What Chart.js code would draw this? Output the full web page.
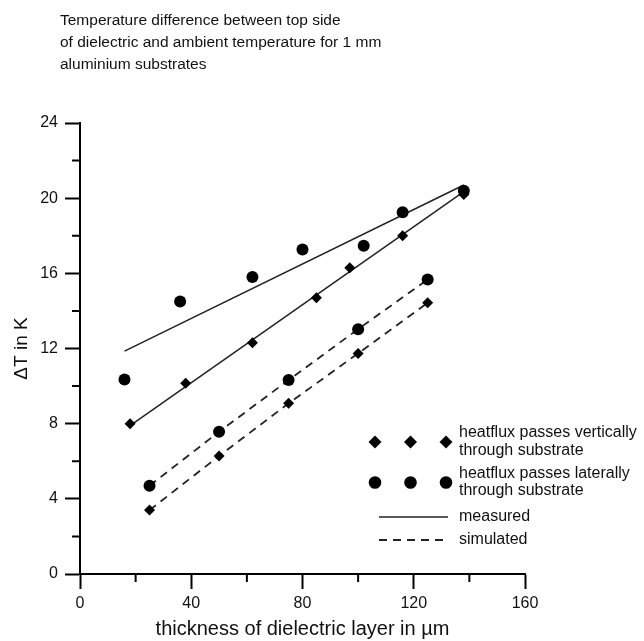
<!DOCTYPE html>
<html>
<head>
<meta charset="utf-8">
<script src="https://cdn.jsdelivr.net/npm/chart.js@4.4.1/dist/chart.umd.min.js"></script>
<style>
  html, body { margin: 0; padding: 0; background: #fff; }
  canvas { display: block; }
</style>
</head>
<body>
<canvas id="chart" width="644" height="641"></canvas>
<script>
// measured data (thickness in µm, delta T in K)
const measVertX = [18, 38, 62, 85, 97, 116, 138];
const measVertY = [8.0, 10.15, 12.3, 14.7, 16.3, 18.0, 20.2];
const measLatX = [16, 36, 62, 80, 102, 116, 138];
const measLatY = [10.35, 14.5, 15.8, 17.27, 17.47, 19.25, 20.4];

// fitted lines through the measured data (end points)
const fitVertX = [18, 138];
const fitVertY = [7.9, 20.35];
const fitLatX = [16, 138];
const fitLatY = [11.86, 20.7];

// simulated data
const simX = [25, 50, 75, 100, 125];
const simVertY = [3.4, 6.28, 9.08, 11.74, 14.43];
const simLatY = [4.7, 7.57, 10.32, 13.03, 15.67];

const titleLines = [
  "Temperature difference between top side",
  "of dielectric and ambient temperature for 1 mm",
  "aluminium substrates"
];
const legendRows = [
  ["heatflux passes vertically", "through substrate"],
  ["heatflux passes laterally", "through substrate"],
  ["measured"],
  ["simulated"]
];

const FONT = "'Liberation Sans', Arial, sans-serif";
const INK = "#111";

function pts(xs, ys) {
  return xs.map((x, i) => ({ x: x, y: ys[i] }));
}

// title, minor ticks and legend
const extras = {
  id: "extras",
  afterDraw(chart) {
    const ctx = chart.ctx;
    const xs = chart.scales.x, ys = chart.scales.y;
    const area = chart.chartArea;
    ctx.save();

    // minor ticks
    ctx.strokeStyle = "#000";
    ctx.lineWidth = 2;
    ctx.beginPath();
    for (let v = 20; v < 160; v += 40) {
      const px = xs.getPixelForValue(v);
      ctx.moveTo(px, area.bottom);
      ctx.lineTo(px, area.bottom + 8);
    }
    for (let v = 2; v < 24; v += 4) {
      const py = ys.getPixelForValue(v);
      ctx.moveTo(area.left - 8, py);
      ctx.lineTo(area.left, py);
    }
    ctx.stroke();

    // title
    ctx.fillStyle = INK;
    ctx.font = "15.5px " + FONT;
    ctx.textAlign = "left";
    ctx.textBaseline = "alphabetic";
    titleLines.forEach((t, i) => ctx.fillText(t, 60, 25 + i * 22));

    // legend
    ctx.font = "16px " + FONT;
    ctx.textBaseline = "middle";
    const tx = 459;
    ctx.fillText(legendRows[0][0], tx, 433);
    ctx.fillText(legendRows[0][1], tx, 451);
    ctx.fillText(legendRows[1][0], tx, 474);
    ctx.fillText(legendRows[1][1], tx, 491);
    ctx.fillText(legendRows[2][0], tx, 517);
    ctx.fillText(legendRows[3][0], tx, 540);

    ctx.fillStyle = "#000";
    [375, 410.5, 446].forEach(cx => {
      Chart.helpers.drawPoint(ctx, { pointStyle: "rectRot", radius: 6.5, borderWidth: 0 }, cx, 442);
      ctx.beginPath();
      ctx.arc(cx, 482.5, 6.3, 0, Math.PI * 2);
      ctx.fill();
    });

    ctx.strokeStyle = "#222";
    ctx.lineWidth = 1.5;
    ctx.beginPath();
    ctx.moveTo(379, 517);
    ctx.lineTo(448, 517);
    ctx.stroke();
    ctx.lineWidth = 1.8;
    ctx.setLineDash([8, 6]);
    ctx.beginPath();
    ctx.moveTo(379, 540);
    ctx.lineTo(448, 540);
    ctx.stroke();
    ctx.restore();
  }
};

const diamond = { pointStyle: "rectRot", pointRadius: 5.5, pointBackgroundColor: "#000", pointBorderWidth: 0 };
const dot = { pointStyle: "circle", pointRadius: 6, pointBackgroundColor: "#000", pointBorderWidth: 0 };

new Chart(document.getElementById("chart").getContext("2d"), {
  type: "scatter",
  data: {
    datasets: [
      { data: pts(measVertX, measVertY), showLine: false, ...diamond },
      { data: pts(measLatX, measLatY), showLine: false, ...dot },
      { data: pts(simX, simVertY), showLine: true, borderColor: "#222", borderWidth: 1.8, borderDash: [8, 6], ...diamond },
      { data: pts(simX, simLatY), showLine: true, borderColor: "#222", borderWidth: 1.8, borderDash: [8, 6], ...dot },
      { data: pts(fitVertX, fitVertY), showLine: true, borderColor: "#222", borderWidth: 1.5, pointRadius: 0 },
      { data: pts(fitLatX, fitLatY), showLine: true, borderColor: "#222", borderWidth: 1.5, pointRadius: 0 }
    ]
  },
  options: {
    responsive: false,
    maintainAspectRatio: false,
    animation: false,
    layout: { padding: { top: 123, right: 119, left: 0, bottom: 0 } },
    scales: {
      x: {
        type: "linear",
        min: 0,
        max: 160,
        afterFit(scale) { scale.height = 67; },
        ticks: { stepSize: 40, color: INK, font: { size: 16, family: FONT }, padding: 5, maxRotation: 0 },
        grid: { drawOnChartArea: false, drawTicks: true, tickLength: 15, tickWidth: 2, tickColor: "#000" },
        border: { display: true, width: 2, color: "#000" },
        title: { display: true, text: "thickness of dielectric layer in µm", color: INK, font: { size: 20, family: FONT }, padding: { top: 0, bottom: 0 } }
      },
      y: {
        type: "linear",
        min: 0,
        max: 24,
        afterFit(scale) { scale.width = 80; },
        ticks: { stepSize: 4, color: INK, font: { size: 16, family: FONT }, padding: 7 },
        grid: { drawOnChartArea: false, drawTicks: true, tickLength: 15, tickWidth: 2, tickColor: "#000" },
        border: { display: true, width: 2, color: "#000" },
        title: { display: true, text: "ΔT in K", color: INK, font: { size: 19, family: FONT }, padding: { top: 10, bottom: 0 } }
      }
    },
    plugins: {
      legend: { display: false },
      tooltip: { enabled: false },
      title: { display: false }
    }
  },
  plugins: [extras]
});
</script>
</body>
</html>
